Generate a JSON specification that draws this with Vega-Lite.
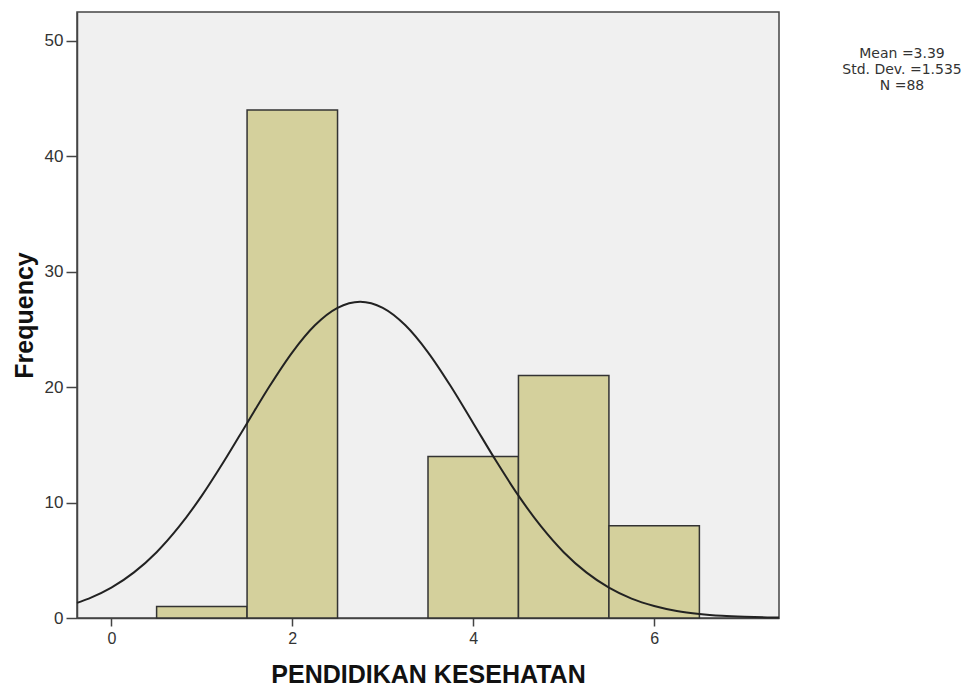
{
  "$schema": "https://vega.github.io/schema/vega-lite/v6.json",
  "width": 702,
  "height": 606,
  "autosize": "none",
  "padding": {"left": 77, "top": 12, "right": 198, "bottom": 82},
  "background": "white",
  "config": {
    "font": "Liberation Sans",
    "view": {"fill": "#f0f0f0", "stroke": "#444444", "strokeWidth": 1.5}
  },
  "datasets": {
    "bars": [
      {"bin_start": 0.5, "bin_end": 1.5, "frequency": 1},
      {"bin_start": 1.5, "bin_end": 2.5, "frequency": 44},
      {"bin_start": 3.5, "bin_end": 4.5, "frequency": 14},
      {"bin_start": 4.5, "bin_end": 5.5, "frequency": 21},
      {"bin_start": 5.5, "bin_end": 6.5, "frequency": 8}
    ],
    "curve": [
      {"x": -0.38, "y": 1.31}, {"x": -0.25, "y": 1.68}, {"x": 0, "y": 2.63},
      {"x": 0.25, "y": 3.95}, {"x": 0.5, "y": 5.7}, {"x": 0.75, "y": 7.93},
      {"x": 1.0, "y": 10.6}, {"x": 1.25, "y": 13.64}, {"x": 1.5, "y": 16.88},
      {"x": 1.75, "y": 20.1}, {"x": 2.0, "y": 23.02}, {"x": 2.25, "y": 25.36},
      {"x": 2.5, "y": 26.87}, {"x": 2.75, "y": 27.4}, {"x": 3.0, "y": 26.87},
      {"x": 3.25, "y": 25.36}, {"x": 3.5, "y": 23.02}, {"x": 3.75, "y": 20.1},
      {"x": 4.0, "y": 16.88}, {"x": 4.25, "y": 13.64}, {"x": 4.5, "y": 10.6},
      {"x": 4.75, "y": 7.93}, {"x": 5.0, "y": 5.7}, {"x": 5.25, "y": 3.95},
      {"x": 5.5, "y": 2.63}, {"x": 5.75, "y": 1.68}, {"x": 6.0, "y": 1.04},
      {"x": 6.25, "y": 0.61}, {"x": 6.5, "y": 0.35}, {"x": 6.75, "y": 0.19},
      {"x": 7.0, "y": 0.1}, {"x": 7.25, "y": 0.05}, {"x": 7.38, "y": 0.04}
    ],
    "stats": [
      {"text": "Mean =3.39\nStd. Dev. =1.535\nN =88"}
    ]
  },
  "layer": [
    {
      "data": {"name": "bars"},
      "mark": {"type": "rect", "fill": "#d4d09c", "stroke": "#333333", "strokeWidth": 1.5},
      "encoding": {
        "x": {
          "field": "bin_start", "type": "quantitative",
          "scale": {"domain": [-0.38, 7.38], "nice": false, "zero": false},
          "axis": {
            "values": [0, 2, 4, 6], "format": "d", "grid": false, "domain": true, "domainColor": "#444444", "domainWidth": 1.5,
            "tickSize": 8, "tickColor": "#444444", "tickWidth": 1.5,
            "labelFontSize": 16, "labelColor": "#333333", "labelPadding": 4,
            "title": "PENDIDIKAN KESEHATAN", "titleFontSize": 25, "titleFontWeight": "bold",
            "titleColor": "#111111", "titlePadding": 16
          }
        },
        "x2": {"field": "bin_end"},
        "y": {
          "field": "frequency", "type": "quantitative",
          "scale": {"domain": [0, 52.5], "nice": false},
          "axis": {
            "values": [0, 10, 20, 30, 40, 50], "grid": false, "domain": true, "domainColor": "#444444", "domainWidth": 1.5,
            "tickSize": 11, "tickColor": "#444444", "tickWidth": 1.5,
            "labelFontSize": 17, "labelColor": "#333333", "labelPadding": 3,
            "title": "Frequency", "titleFontSize": 25, "titleFontWeight": "bold",
            "titleColor": "#111111", "titlePadding": 7
          }
        },
        "y2": {"datum": 0}
      }
    },
    {
      "data": {"name": "curve"},
      "mark": {"type": "line", "color": "#222222", "strokeWidth": 2, "interpolate": "monotone"},
      "encoding": {
        "x": {"field": "x", "type": "quantitative"},
        "y": {"field": "y", "type": "quantitative"}
      }
    },
    {
      "data": {"name": "stats"},
      "mark": {"type": "text", "font": "DejaVu Sans", "fontSize": 14, "lineBreak": "\n", "lineHeight": 16, "align": "center", "baseline": "top", "color": "#333333"},
      "encoding": {
        "text": {"field": "text"},
        "x": {"datum": 8.74},
        "y": {"datum": 49.5}
      }
    }
  ]
}
